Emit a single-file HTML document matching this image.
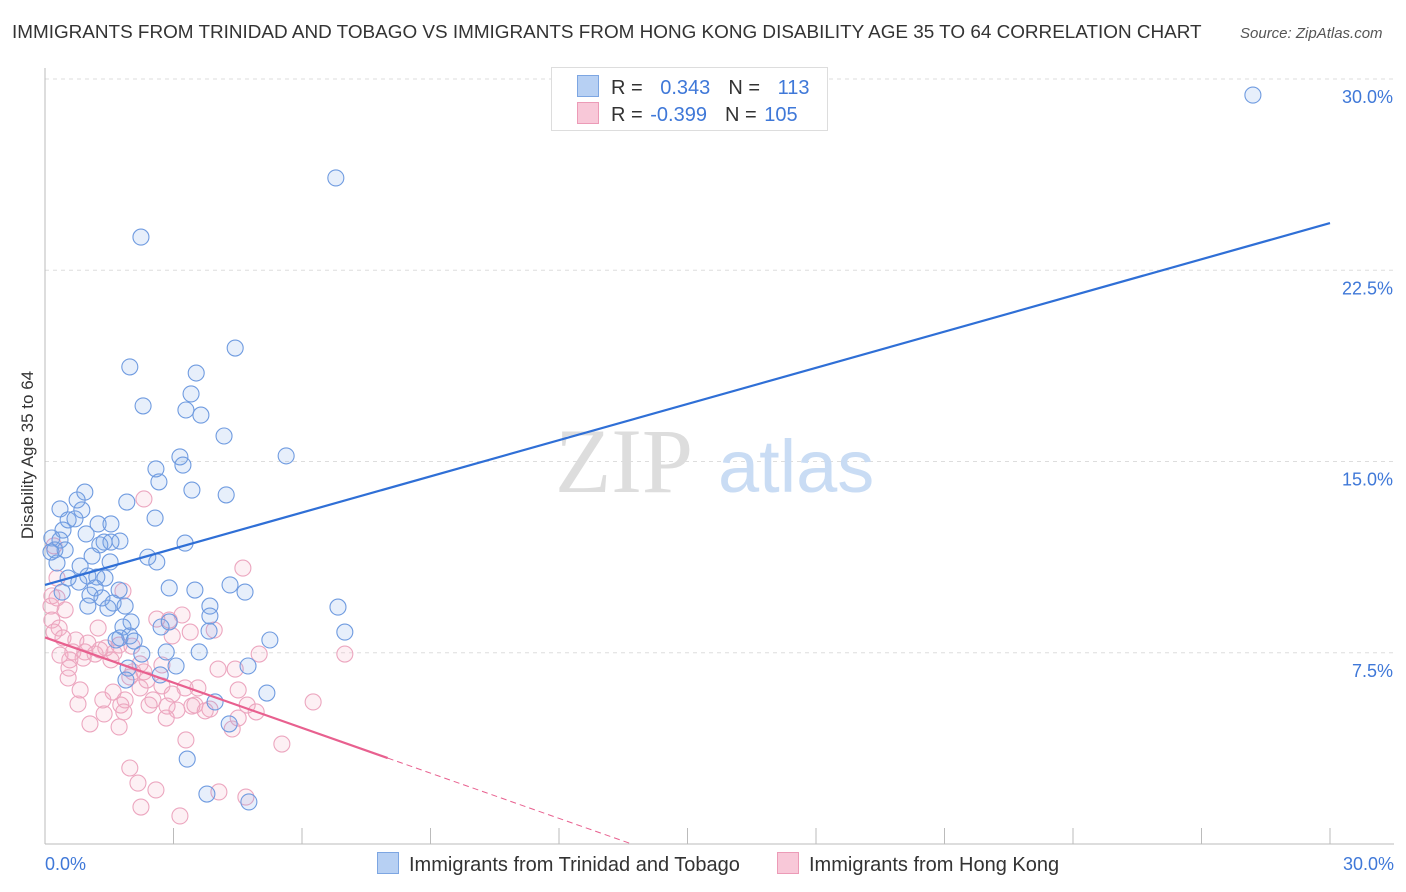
<!DOCTYPE html>
<html><head><meta charset="utf-8"><style>
body{margin:0;background:#fff;font-family:"Liberation Sans",sans-serif;}
#wrap{position:relative;width:1406px;height:892px;overflow:hidden;}
.t{position:absolute;white-space:nowrap;}
</style></head><body>
<div id="wrap">
<div class="t" style="left:12px;top:22px;font-size:18.9px;color:#333;">IMMIGRANTS FROM TRINIDAD AND TOBAGO VS IMMIGRANTS FROM HONG KONG DISABILITY AGE 35 TO 64 CORRELATION CHART</div>
<div class="t" style="left:1240px;top:25px;font-size:15px;color:#555;font-style:italic;">Source: ZipAtlas.com</div>
<svg id="chart" width="1406" height="892" style="position:absolute;left:0;top:0"></svg>
</div>
<script>
const xTicks=[0,3,6,9,12,15,18,21,24,27,30];
const yTicks=[7.5,15,22.5,30];
const yTickLabels=["7.5%","15.0%","22.5%","30.0%"];
const blueX=[28.2,6.79,2.24,4.44,1.98,3.53,3.41,2.29,3.29,3.64,4.18,3.15,5.63,2.59,3.22,2.66,3.43,4.23,0.93,1.91,0.35,0.86,0.54,0.70,2.57,1.24,1.54,0.42,0.96,0.16,0.35,1.75,1.38,1.54,1.28,0.23,0.47,0.14,1.10,2.40,3.27,2.61,0.28,1.52,0.82,0.54,1.00,1.21,1.40,0.79,1.17,2.90,1.73,4.32,3.50,4.67,0.40,1.05,1.33,1.59,1.47,1.00,3.85,1.87,3.85,6.84,2.01,2.71,1.82,2.90,3.83,7.0,5.25,1.75,1.98,2.08,1.66,2.83,3.60,2.26,3.06,4.74,1.94,2.69,1.89,5.18,3.97,4.30,3.32,3.78,4.76,0.75];
const blueY=[29.37,26.12,23.8,19.45,18.71,18.47,17.65,17.18,17.02,16.82,16.0,15.18,15.22,14.71,14.86,14.2,13.88,13.69,13.8,13.41,13.14,13.1,12.71,12.75,12.78,12.55,12.55,12.31,12.16,12.0,11.92,11.88,11.84,11.84,11.73,11.53,11.53,11.45,11.29,11.25,11.8,11.06,11.02,11.06,10.9,10.43,10.51,10.47,10.43,10.27,10.04,10.04,9.96,10.16,9.96,9.88,9.88,9.76,9.65,9.45,9.25,9.33,9.33,9.33,8.94,9.29,8.71,8.51,8.51,8.71,8.35,8.31,8.0,8.08,8.16,7.96,8.0,7.53,7.53,7.45,6.98,6.98,6.9,6.63,6.43,5.92,5.57,4.71,3.33,1.96,1.65,13.49];
const pinkX=[2.31,4.62,0.21,0.16,0.14,1.82,0.47,0.16,0.33,0.21,0.42,0.72,1.24,1.0,1.73,2.03,1.42,0.65,0.93,1.17,0.89,0.58,1.61,3.20,2.61,3.39,2.97,3.95,2.73,2.05,2.31,1.98,2.73,2.22,3.27,1.59,1.35,1.87,2.52,2.97,3.57,4.51,5.0,4.04,4.44,4.72,4.93,3.85,3.43,3.08,2.43,1.77,1.38,0.77,2.83,4.51,3.50,4.37,1.73,1.05,0.56,1.84,5.53,3.29,1.98,2.17,2.24,2.59,3.15,4.69,4.06,6.26,7.0,0.54,0.28,2.22,2.90,2.85,3.74,0.28,1.28,1.54,2.38,0.82,0.35];
const pinkY=[13.53,10.82,11.69,9.73,9.33,9.92,9.18,8.78,8.47,8.31,8.08,8.0,8.47,7.88,7.8,7.76,7.69,7.53,7.53,7.45,7.29,7.22,7.49,8.98,8.82,8.31,8.16,8.39,7.02,6.75,6.75,6.55,6.2,6.12,6.12,5.96,5.65,5.65,5.65,5.88,6.12,6.04,7.45,6.86,6.86,5.45,5.18,5.29,5.41,5.25,5.45,5.45,5.1,5.49,4.94,4.94,5.45,4.51,4.59,4.71,6.9,5.18,3.92,4.08,2.98,2.39,1.45,2.12,1.1,1.84,2.04,5.57,7.45,6.51,10.43,7.06,8.78,5.41,5.22,9.65,7.61,7.22,6.43,6.04,7.41];
const blueLine=[[0,10.16],[30,24.35]];
const pinkLine=[[0,8.1],[8,3.37]];
const pinkDash=[[8,3.37],[13.7,0]];

const NS="http://www.w3.org/2000/svg";
const svg=document.getElementById('chart');
const X0=45,X1=1330,Y0=844,Y1=79;
const sx=v=>X0+(v/30)*(X1-X0);
const sy=v=>Y0-(v/30)*(Y0-Y1);
function mk(tag,attrs){const e=document.createElementNS(NS,tag);for(const k in attrs)e.setAttribute(k,attrs[k]);svg.appendChild(e);return e;}
yTicks.forEach((t,i)=>{
 const g=mk('line',{x1:X0,x2:1394,y1:sy(t),y2:sy(t),stroke:'#ddd','stroke-dasharray':'4,4'});
 
 
 const l=mk('text',{x:1393,y:sy(t)+24,'text-anchor':'end','font-size':'18',fill:'#3f78d8','font-family':'Liberation Sans'});
 l.textContent=yTickLabels[i];
 
 
});
const ax=mk('line',{x1:X0,x2:1394,y1:Y0,y2:Y0,stroke:'#bbb'});


const ay=mk('line',{x1:X0,x2:X0,y1:68,y2:Y0,stroke:'#bbb'});


xTicks.forEach(t=>{
 const k=mk('line',{x1:sx(t),x2:sx(t),y1:Y0,y2:Y0-16,stroke:'#bbb'});
 
 
});
[[0,'0.0%','start',X0],[30,'30.0%','end',1394]].forEach(a=>{
 const l=mk('text',{x:a[3],y:870,'text-anchor':a[2],'font-size':'18',fill:'#3f78d8','font-family':'Liberation Sans'});
 l.textContent=a[1];
 
 
});
const w1=mk('text',{x:555,y:492,'font-size':'92','font-family':'Liberation Serif',fill:'#ddd'});
w1.textContent='ZIP';


const w2=mk('text',{x:718,y:492,'font-size':'74','font-family':'Liberation Sans',fill:'#c9dcf4'});
w2.textContent='atlas';


function pts(xs,ys,stroke,fill,name){
 xs.forEach((x,i)=>{
  const c=mk('circle',{cx:sx(x),cy:sy(ys[i]),r:8,fill:fill,stroke:stroke,'stroke-width':'1.1'});
  
  
 });
}
pts(pinkX,pinkY,'#eca6bf','rgba(242,170,196,0.18)','point-hong-kong');
pts(blueX,blueY,'#6f9be0','rgba(120,165,232,0.18)','point-trinidad');
const bl=mk('line',{x1:sx(blueLine[0][0]),y1:sy(blueLine[0][1]),x2:sx(blueLine[1][0]),y2:sy(blueLine[1][1]),stroke:'#2f6fd6','stroke-width':'2.2'});


const pl=mk('line',{x1:sx(pinkLine[0][0]),y1:sy(pinkLine[0][1]),x2:sx(pinkLine[1][0]),y2:sy(pinkLine[1][1]),stroke:'#e8608f','stroke-width':'2.2'});


const pd=mk('line',{x1:sx(pinkDash[0][0]),y1:sy(pinkDash[0][1]),x2:sx(pinkDash[1][0]),y2:sy(pinkDash[1][1]),stroke:'#e8608f','stroke-width':'1','stroke-dasharray':'6,4'});


const yt=mk('text',{x:0,y:0,transform:'translate(33,455) rotate(-90)','text-anchor':'middle','font-size':'17',fill:'#333','font-family':'Liberation Sans'});
yt.textContent='Disability Age 35 to 64';


</script>
<div class="t" style="left:551px;top:67px;width:275px;height:62px;border:1px solid #ddd;background:#fff;font-size:20px;">
 <div style="position:absolute;left:25px;top:7px;"><span style="display:inline-block;width:20px;height:20px;background:#b7d0f3;border:1px solid #7da6e2;vertical-align:-3px;"></span><span style="color:#333;margin-left:12px;">R = </span><span style="color:#3f78d8;margin-left:12px;">0.343</span><span style="color:#333;margin-left:18px;">N = </span><span style="color:#3f78d8;margin-left:12px;">113</span></div>
 <div style="position:absolute;left:25px;top:34px;"><span style="display:inline-block;width:20px;height:20px;background:#f8c8d8;border:1px solid #ec9bb7;vertical-align:-3px;"></span><span style="color:#333;margin-left:12px;">R = </span><span style="color:#3f78d8;margin-left:2px;">-0.399</span><span style="color:#333;margin-left:18px;">N = </span><span style="color:#3f78d8;margin-left:2px;">105</span></div>
</div>
<div class="t" style="left:377px;top:852px;font-size:20px;color:#333;"><span style="display:inline-block;width:20px;height:20px;background:#b7d0f3;border:1px solid #7da6e2;vertical-align:-3px;margin-right:10px;"></span>Immigrants from Trinidad and Tobago</div>
<div class="t" style="left:777px;top:852px;font-size:20px;color:#333;"><span style="display:inline-block;width:20px;height:20px;background:#f8c8d8;border:1px solid #ec9bb7;vertical-align:-3px;margin-right:10px;"></span>Immigrants from Hong Kong</div>
</body></html>
